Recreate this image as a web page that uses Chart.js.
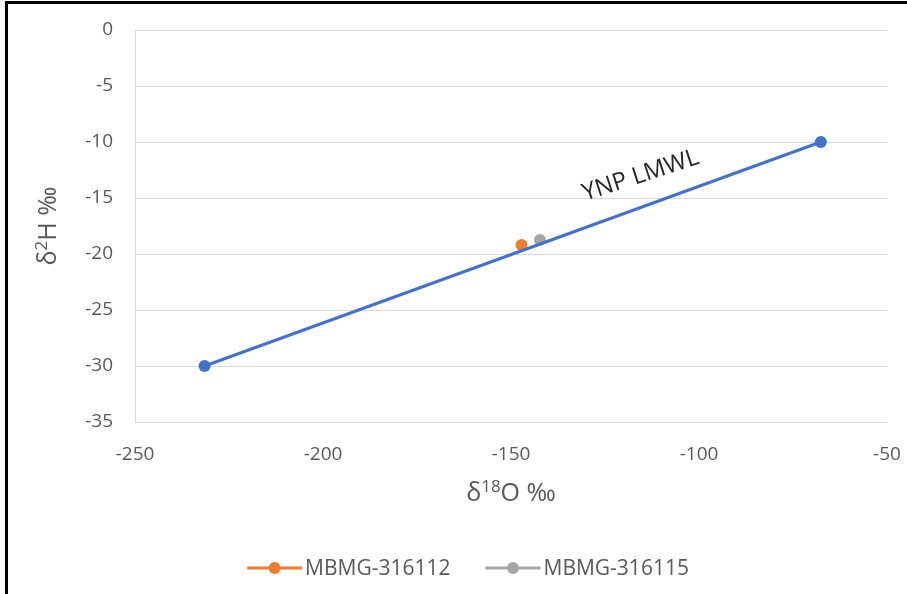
<!DOCTYPE html>
<html>
<head>
<meta charset="utf-8">
<script src="https://cdn.jsdelivr.net/npm/chart.js@4.4.1/dist/chart.umd.min.js"></script>
<style>
  html, body { margin: 0; padding: 0; background: #fff; }
  #wrap { position: relative; width: 907px; height: 594px; }
</style>
</head>
<body>
<div id="wrap"><canvas id="myChart"></canvas></div>
<script>
// YNP local meteoric water line (two end points)
const lmwlName = "YNP LMWL";
const lmwlX = [-231.5, -67.6];
const lmwlY = [-30, -10];

// samples
const sampleNames = ["MBMG-316112", "MBMG-316115"];
const sampleX = [-147.2, -142.3];
const sampleY = [-19.2, -18.75];
const sampleColors = ["#ED7D31", "#A5A5A5"];

// axes
const xTicks = [-250, -200, -150, -100, -50];
const yTicks = [0, -5, -10, -15, -20, -25, -30, -35];
// axis titles as [text, superscript?] pieces
const xTitle = [["δ", false], ["18", true], ["O ‰", false]];
const yTitle = [["δ", false], ["2", true], ["H ‰", false]];

// where the line label sits (data units)
const lmwlLabelAt = { x: -115.5, y: -13.0 };

const tickColor = "#595959";
const fontFam = "'Open Sans', sans-serif";

// draw "δ18O ‰" style text, centred on (cx, cy), optionally rotated
function drawRich(ctx, parts, cx, cy, rot) {
  const big = "25px " + fontFam, small = "17px " + fontFam;
  let w = 0;
  parts.forEach((p) => {
    ctx.font = p[1] ? small : big;
    w += ctx.measureText(p[0]).width;
  });
  ctx.save();
  ctx.translate(cx, cy);
  ctx.rotate(rot);
  ctx.fillStyle = tickColor;
  ctx.textBaseline = "alphabetic";
  ctx.textAlign = "left";
  let x = -w / 2;
  parts.forEach((p) => {
    ctx.font = p[1] ? small : big;
    ctx.fillText(p[0], x, p[1] ? 0 : 9);
    x += ctx.measureText(p[0]).width;
  });
  ctx.restore();
}

const extrasPlugin = {
  id: "extras",
  afterDatasetsDraw(chart) {
    const { ctx, scales, chartArea } = chart;
    // line label
    ctx.save();
    ctx.translate(scales.x.getPixelForValue(lmwlLabelAt.x), scales.y.getPixelForValue(lmwlLabelAt.y));
    ctx.rotate(-18 * Math.PI / 180);
    ctx.font = "24px " + fontFam;
    ctx.fillStyle = "#262626";
    ctx.textAlign = "center";
    ctx.textBaseline = "middle";
    ctx.fillText(lmwlName, 0, 0);
    ctx.restore();

    // axis titles
    drawRich(ctx, xTitle, (chartArea.left + chartArea.right) / 2, chartArea.bottom + 70, 0);
    drawRich(ctx, yTitle, 47, (chartArea.top + chartArea.bottom) / 2, -Math.PI / 2);

    // legend (line + marker)
    const items = chart.data.datasets.slice(1);
    ctx.save();
    ctx.font = "21px " + fontFam;
    ctx.textBaseline = "middle";
    const iconW = 55, textGap = 3, itemGap = 35, legendY = 568;
    let total = 0;
    items.forEach((ds, i) => {
      total += iconW + textGap + ctx.measureText(ds.label).width + (i ? itemGap : 0);
    });
    let x = 468 - total / 2;
    items.forEach((ds) => {
      ctx.strokeStyle = ds.borderColor;
      ctx.fillStyle = ds.backgroundColor;
      ctx.lineWidth = 3;
      ctx.beginPath();
      ctx.moveTo(x, legendY);
      ctx.lineTo(x + iconW, legendY);
      ctx.stroke();
      ctx.beginPath();
      ctx.arc(x + iconW / 2, legendY, 6, 0, Math.PI * 2);
      ctx.fill();
      x += iconW + textGap;
      ctx.fillStyle = tickColor;
      ctx.fillText(ds.label, x, legendY + 1);
      x += ctx.measureText(ds.label).width + itemGap;
    });
    ctx.restore();
  },
  afterDraw(chart) {
    const ctx = chart.ctx;
    ctx.save();
    ctx.strokeStyle = "#000";
    ctx.lineWidth = 3;
    ctx.beginPath();
    ctx.moveTo(6.5, chart.height);
    ctx.lineTo(6.5, 2.5);
    ctx.lineTo(chart.width, 2.5);
    ctx.stroke();
    ctx.restore();
  }
};

const datasets = [
  {
    label: lmwlName,
    data: lmwlX.map((x, i) => ({ x: x, y: lmwlY[i] })),
    showLine: true,
    borderColor: "#4472C4",
    backgroundColor: "#4472C4",
    borderWidth: 3,
    pointRadius: 6,
    pointBorderWidth: 0
  }
];
sampleNames.forEach((name, i) => {
  datasets.push({
    label: name,
    data: [{ x: sampleX[i], y: sampleY[i] }],
    borderColor: sampleColors[i],
    backgroundColor: sampleColors[i],
    pointRadius: 6,
    pointBorderWidth: 0
  });
});

const ctx = document.getElementById("myChart").getContext("2d");
const myChart = new Chart(ctx, {
  type: "scatter",
  data: { datasets: datasets },
  plugins: [extrasPlugin],
  options: {
    responsive: true,
    maintainAspectRatio: false,
    animation: false,
    layout: { padding: { left: 8, right: 20, top: 30, bottom: 0 } },
    plugins: {
      tooltip: { enabled: false },
      legend: { display: false }
    },
    scales: {
      x: {
        type: "linear",
        min: Math.min(...xTicks),
        max: Math.max(...xTicks),
        afterBuildTicks: (s) => { s.ticks = xTicks.map((v) => ({ value: v })); },
        afterFit: (s) => {
          s.height = 172;
          s.paddingLeft = 0;
          s.paddingRight = 0;
        },
        grid: { display: false, drawTicks: false },
        border: { display: false },
        ticks: { color: tickColor, padding: 21, font: { family: fontFam, size: 19 } }
      },
      y: {
        type: "linear",
        min: Math.min(...yTicks),
        max: Math.max(...yTicks),
        afterBuildTicks: (s) => { s.ticks = yTicks.map((v) => ({ value: v })); },
        afterFit: (s) => {
          s.width = 127;
          s.paddingTop = 0;
          s.paddingBottom = 0;
        },
        grid: { color: "#D9D9D9", lineWidth: 1, drawTicks: false },
        border: { display: true, color: "#D9D9D9", width: 1 },
        ticks: { color: tickColor, padding: 22, font: { family: fontFam, size: 19 } }
      }
    }
  }
});
</script>
</body>
</html>
